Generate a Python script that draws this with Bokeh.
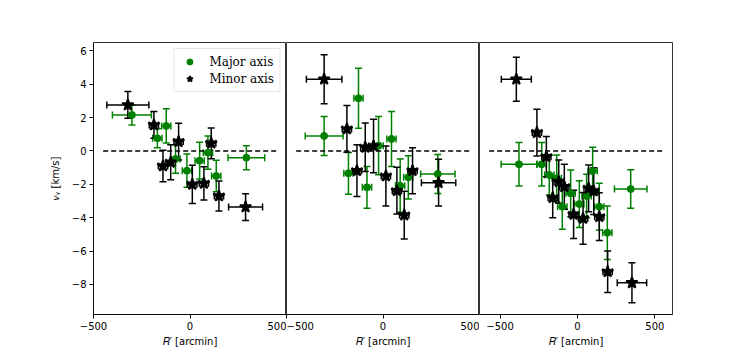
import numpy as np
from bokeh.plotting import figure
from bokeh.layouts import row
from bokeh.models import (ColumnDataSource, Whisker, TeeHead, FixedTicker, Range1d,
                          Legend, LegendItem)
from bokeh.embed import file_html
from bokeh.resources import INLINE

# ---------------- data ----------------
# panel 1
p1_major_x = [-301, -123, -169, -75, -16, 50, 93, 136, 292]
p1_major_y = [2.16, 1.50, 0.76, -0.48, -1.18, -0.58, -0.10, -1.50, -0.40]
p1_major_xerr = [101, 24, 24, 24, 24, 24, 24, 24, 95]
p1_major_yerr = [0.60, 1.03, 0.57, 0.85, 1.00, 1.10, 1.00, 0.95, 0.72]

p1_minor_x = [-322, -187, -59, -140, -100, 110, 12, 72, 150, 288]
p1_minor_y = [2.76, 1.56, 0.56, -0.90, -0.68, 0.46, -2.00, -1.94, -2.70, -3.36]
p1_minor_xerr = [109, 24, 24, 24, 24, 24, 24, 24, 24, 88]
p1_minor_yerr = [0.80, 0.80, 1.10, 0.95, 1.05, 0.92, 1.15, 1.00, 0.90, 0.80]

# panel 2
p2_major_x = [-305, -127, -179, -83, -23, 44, 89, 131, 284]
p2_major_y = [0.90, 3.16, -1.34, -2.18, 0.32, 0.72, -2.08, -1.58, -1.38]
p2_major_xerr = [98, 24, 24, 24, 24, 24, 24, 24, 89]
p2_major_yerr = [1.17, 1.80, 1.25, 1.25, 1.75, 1.65, 1.60, 1.30, 1.17]

p2_minor_x = [-305, -187, -135, -92, -49, 15, 72, 110, 153, 288]
p2_minor_y = [4.30, 1.32, -1.18, 0.22, 0.30, -1.50, -2.38, -3.84, -1.18, -1.90]
p2_minor_xerr = [92, 24, 24, 24, 24, 24, 24, 24, 24, 89]
p2_minor_yerr = [1.47, 1.40, 1.55, 1.45, 1.60, 1.80, 1.40, 1.43, 1.38, 1.40]

# panel 3
p3_major_x = [-378, -231, -182, -134, -98, -44, 12, 59, 98, 141, 193, 344]
p3_major_y = [-0.80, -0.80, -1.44, -1.64, -3.34, -2.54, -3.18, -2.70, -1.20, -3.34, -4.90, -2.28]
p3_major_xerr = [115, 30, 30, 30, 30, 30, 30, 30, 30, 30, 30, 105]
p3_major_yerr = [1.30, 1.30, 1.20, 1.40, 1.35, 1.40, 1.40, 1.30, 1.43, 1.40, 1.60, 1.15]

p3_minor_x = [-395, -262, -201, -160, -121, -85, -25, 36, 72, 105, 141, 195, 352]
p3_minor_y = [4.30, 1.10, -0.34, -2.80, -1.84, -2.14, -3.80, -4.04, -2.24, -2.40, -3.94, -7.24, -7.90]
p3_minor_xerr = [97, 30, 30, 30, 30, 30, 30, 30, 30, 30, 30, 30, 95]
p3_minor_yerr = [1.32, 1.40, 1.20, 1.20, 1.30, 1.35, 1.45, 1.55, 1.40, 1.40, 1.43, 1.24, 1.20]

x_ticks = [-500, 0, 500]
y_ticks = [-8, -6, -4, -2, 0, 2, 4, 6]
y_lim = (-9.8, 6.5)
x_lims = [(-500, 500), (-500, 500), (-633, 614)]

GREEN = "#008000"
FONT = "DejaVu Sans"


def lab(v):
    return str(v).replace("-", "\u2212")


def add_series(p, xs, ys, xe, ye, color, marker, size, lw):
    xs = np.array(xs, float); ys = np.array(ys, float)
    xe = np.array(xe, float); ye = np.array(ye, float)
    src = ColumnDataSource(dict(x=xs, y=ys, xl=xs - xe, xu=xs + xe, yl=ys - ye, yu=ys + ye))
    for dim, base, lo, hi in (("height", "x", "yl", "yu"), ("width", "y", "xl", "xu")):
        w = Whisker(source=src, base=base, lower=lo, upper=hi, dimension=dim,
                    line_color=color, line_width=1.5,
                    upper_head=TeeHead(size=7, line_color=color, line_width=1.5),
                    lower_head=TeeHead(size=7, line_color=color, line_width=1.5))
        p.add_layout(w)
    r = p.scatter("x", "y", source=src, marker=marker, size=size,
                  fill_color=color, line_color=color, line_width=lw)
    return r


panels = [
    (p1_major_x, p1_major_y, p1_major_xerr, p1_major_yerr,
     p1_minor_x, p1_minor_y, p1_minor_xerr, p1_minor_yerr),
    (p2_major_x, p2_major_y, p2_major_xerr, p2_major_yerr,
     p2_minor_x, p2_minor_y, p2_minor_xerr, p2_minor_yerr),
    (p3_major_x, p3_major_y, p3_major_xerr, p3_major_yerr,
     p3_minor_x, p3_minor_y, p3_minor_xerr, p3_minor_yerr),
]

figs = []
for i, (data, xl) in enumerate(zip(panels, x_lims)):
    p = figure(frame_width=193, frame_height=272,
               x_range=Range1d(*xl), y_range=Range1d(*y_lim),
               output_backend="svg", toolbar_location=None,
               min_border_left=93 if i == 0 else 0,
               min_border_right=0 if i < 2 else 8,
               min_border_top=42, min_border_bottom=10)
    p.grid.visible = False
    p.outline_line_color = "black"
    p.outline_line_width = 0.8
    p.background_fill_color = "white"
    p.border_fill_color = "white"

    # axes styling
    p.xaxis.ticker = FixedTicker(ticks=x_ticks)
    p.xaxis.major_label_overrides = {t: lab(t) for t in x_ticks}
    p.xaxis.axis_label = "\U0001D445\u2032 [arcmin]"
    for ax in (p.xaxis, p.yaxis):
        ax.axis_line_color = "black"
        ax.axis_line_width = 0.8
        ax.major_tick_line_color = "black"
        ax.major_tick_in = 0
        ax.major_tick_out = 4
        ax.minor_tick_line_color = None
        ax.major_label_text_font = FONT
        ax.major_label_text_font_size = "10px"
        ax.major_label_text_color = "black"
        ax.axis_label_text_font = FONT
        ax.axis_label_text_font_size = "10px"
        ax.axis_label_text_font_style = "normal"
        ax.axis_label_text_color = "black"
        ax.major_label_standoff = 3
        ax.axis_label_standoff = 3
    p.yaxis.ticker = FixedTicker(ticks=y_ticks)
    p.yaxis.major_label_overrides = {t: lab(t) for t in y_ticks}
    if i == 0:
        p.yaxis.axis_label = "\U0001D463\u1D67 [km/s]"
        p.yaxis.axis_label_standoff = 8
    else:
        p.yaxis.visible = False

    # dashed zero line spanning 5%..95% of the axis width
    span = xl[1] - xl[0]
    p.line([xl[0] + 0.05 * span, xl[0] + 0.95 * span], [0, 0],
           line_color="black", line_width=1.5, line_dash="5 3")

    mx, my, mxe, mye, nx, ny, nxe, nye = data
    g = add_series(p, mx, my, mxe, mye, GREEN, "circle", 7, 1)
    b = add_series(p, nx, ny, nxe, nye, "black", "star", 12, 1.8)

    if i == 0:
        leg = Legend(items=[LegendItem(label="Major axis", renderers=[g]),
                            LegendItem(label="Minor axis", renderers=[b])],
                     location="top_right", margin=6, padding=5,
                     glyph_width=20, glyph_height=15, label_height=15,
                     label_standoff=10, spacing=2,
                     label_text_font="DejaVu Serif", label_text_font_size="12px",
                     label_text_color="black",
                     border_line_color="#cccccc", border_line_width=1,
                     background_fill_alpha=0.8)
        p.add_layout(leg)
    figs.append(p)

layout = row(*figs)
open("out.html", "w").write(file_html(layout, INLINE))
